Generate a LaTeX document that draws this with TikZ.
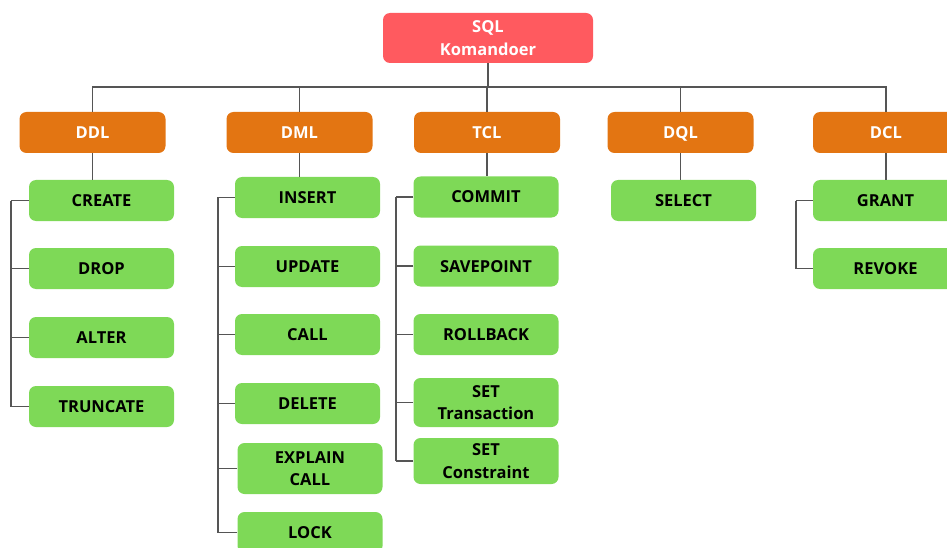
\documentclass[tikz,border=0pt]{standalone}
\usepackage{fontspec}
\setmainfont{Open Sans}
\usepackage{xcolor}
\usetikzlibrary{positioning}

\definecolor{rootred}{HTML}{FF5A5F}
\definecolor{grouporange}{HTML}{E37512}
\definecolor{cmdgreen}{HTML}{7ED957}
\definecolor{linkgray}{HTML}{555555}

\begin{document}
\begin{tikzpicture}[
    x=1pt, y=-1pt,
    base/.style={rectangle, rounded corners=7pt, align=center, inner sep=2pt,
                 font=\fontsize{16.5}{22.5}\selectfont\bfseries},
    oneline/.style={text height=13pt, text depth=1pt},
    rootbox/.style={base, fill=rootred, text=white, minimum width=210pt, minimum height=50pt},
    group/.style={base, oneline, fill=grouporange, text=white, minimum width=146pt, minimum height=41pt},
    cmd/.style={base, fill=cmdgreen, text=black, minimum width=145pt, minimum height=41pt},
    link/.style={draw=linkgray, line width=1.3pt}
]
    \useasboundingbox (0,0) rectangle (947,548);

    % top
    \node[rootbox] (root) at (488,38) {SQL\\Komandoer};
    \coordinate (bus) at (488,87);

    % groups
    \node[group] (ddl) at (92.5,132.5) {DDL};
    \node[group] (dml) at (299.5,132.5) {DML};
    \node[group] (tcl) at (487,132.5) {TCL};
    \node[group] (dql) at (680.5,132.5) {DQL};
    \node[group] (dcl) at (886,132.5) {DCL};

    % DDL commands
    \node[cmd, oneline] (create) at (101.5,200.5) {CREATE};
    \node[cmd, oneline] (drop) at (101.5,268.5) {DROP};
    \node[cmd, oneline] (alter) at (101.5,337.5) {ALTER};
    \node[cmd, oneline] (truncate) at (101.5,406.5) {TRUNCATE};

    % DML commands
    \node[cmd, oneline] (insert) at (307.5,197.5) {INSERT};
    \node[cmd, oneline] (update) at (307.5,266.5) {UPDATE};
    \node[cmd, oneline] (call) at (307.5,334.5) {CALL};
    \node[cmd, oneline] (delete) at (307.5,403.5) {DELETE};
    \node[cmd, minimum height=51pt] (explain) at (310,468.5) {EXPLAIN\\CALL};
    \node[cmd, oneline] (lock) at (310,532.5) {LOCK};

    % TCL commands
    \node[cmd, oneline] (commit) at (486,197) {COMMIT};
    \node[cmd, oneline] (savepoint) at (486,266) {SAVEPOINT};
    \node[cmd, oneline] (rollback) at (486,334.5) {ROLLBACK};
    \node[cmd, minimum height=49pt] (settrans) at (486,402.5) {SET\\Transaction};
    \node[cmd, minimum height=46pt] (setcons) at (486,461) {SET\\Constraint};

    % DQL commands
    \node[cmd, oneline] (select) at (683.5,200.5) {SELECT};

    % DCL commands
    \node[cmd, oneline] (grant) at (885.5,200.5) {GRANT};
    \node[cmd, oneline] (revoke) at (885.5,268.5) {REVOKE};

    % bus lines
    \draw[link] (root.south) -- (bus);
    \foreach \g in {ddl,dml,tcl,dql,dcl}
        \draw[link] (\g.north) |- (bus);

    % group to first command
    \draw[link] (ddl.south) -- (ddl.south |- create.north);
    \draw[link] (dml.south) -- (dml.south |- insert.north);
    \draw[link] (tcl.south) -- (tcl.south |- commit.north);
    \draw[link] (dql.south) -- (dql.south |- select.north);
    \draw[link] (dcl.south) -- (dcl.south |- grant.north);

    % brackets
    \coordinate (ddlbar) at (11,0);
    \coordinate (dmlbar) at (218,0);
    \coordinate (tclbar) at (396,0);
    \coordinate (dclbar) at (796,0);
    \draw[link] (create.west -| ddlbar) -- (truncate.west -| ddlbar);
    \foreach \c in {create,drop,alter,truncate}
        \draw[link] (\c.west) -- (\c.west -| ddlbar);
    \draw[link] (insert.west -| dmlbar) -- (lock.west -| dmlbar);
    \foreach \c in {insert,update,call,delete,explain,lock}
        \draw[link] (\c.west) -- (\c.west -| dmlbar);
    \draw[link] (commit.west -| tclbar) -- (setcons.west -| tclbar);
    \foreach \c in {commit,savepoint,rollback,settrans,setcons}
        \draw[link] (\c.west) -- (\c.west -| tclbar);
    \draw[link] (grant.west -| dclbar) -- (revoke.west -| dclbar);
    \foreach \c in {grant,revoke}
        \draw[link] (\c.west) -- (\c.west -| dclbar);
\end{tikzpicture}
\end{document}
